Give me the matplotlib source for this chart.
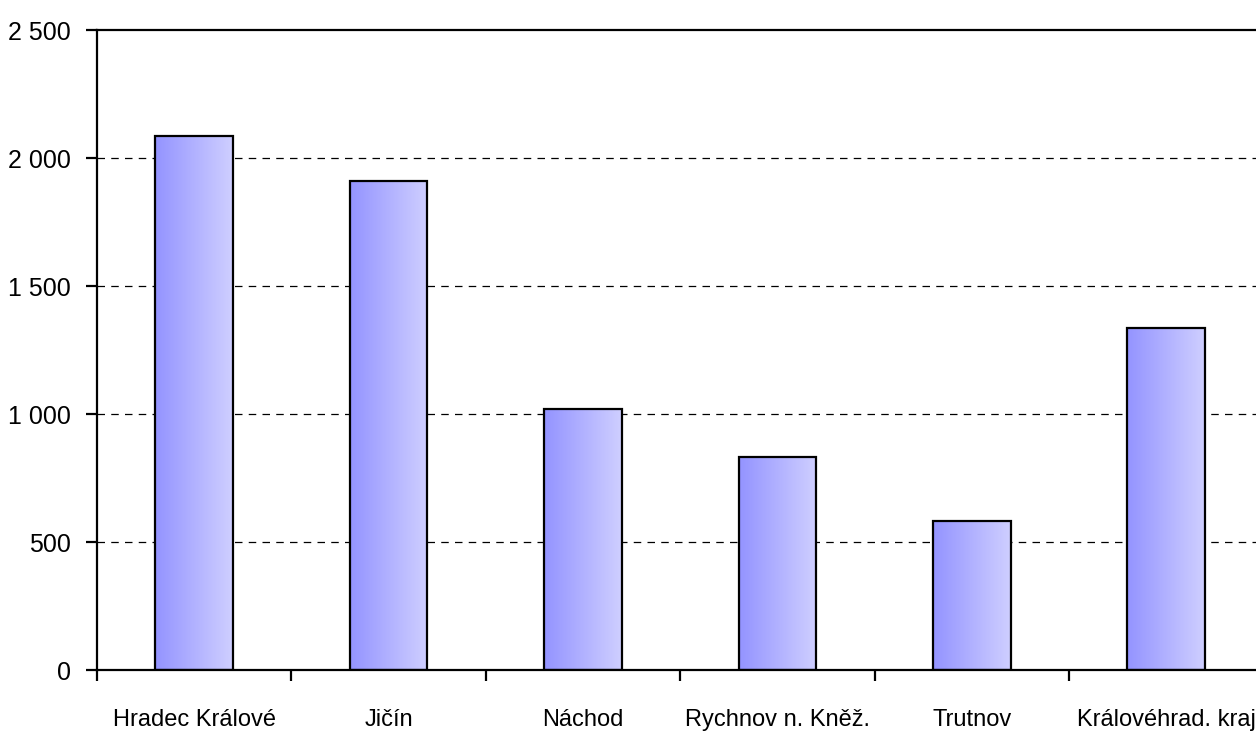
import matplotlib.pyplot as plt
import numpy as np
from matplotlib.ticker import FuncFormatter

### Data
districts = ['Hradec Králové', 'Jičín', 'Náchod', 'Rychnov n. Kněž.', 'Trutnov', 'Královéhrad. kraj']
values = [2084, 1910, 1020, 832, 582, 1335]
y_ticks = [0, 500, 1000, 1500, 2000, 2500]

plt.rcParams['font.family'] = ['Liberation Sans', 'DejaVu Sans']

fig = plt.figure(figsize=(12.56, 7.33), dpi=100)
### Axes runs slightly past the right edge like in the original export
ax = fig.add_axes([97/1256, 63/733, 6*194.4/1256, 640/733])

x = np.arange(len(districts))
width = 0.40
bars = ax.bar(x, values, width=width, facecolor='none', edgecolor='black', linewidth=1.6, zorder=3)

### Horizontal gradient inside each bar
c_left = np.array([0.58, 0.58, 1.0])
c_right = np.array([0.81, 0.81, 1.0])
t = np.linspace(0, 1, 64)
grad = (c_left[None, :] * (1 - t[:, None]) + c_right[None, :] * t[:, None])[None, :, :]
for b in bars:
    x0, w, h = b.get_x(), b.get_width(), b.get_height()
    im = ax.imshow(grad, extent=[x0, x0 + w, 0, h], aspect='auto', zorder=2, interpolation='bilinear')
    im.set_clip_path(b)

ax.set_xlim(-0.5, len(districts) - 0.5)
ax.set_ylim(0, 2500)

### Y axis
ax.set_yticks(y_ticks)
ax.yaxis.set_major_formatter(FuncFormatter(lambda v, p: f'{int(v):,}'.replace(',', ' ')))
ax.tick_params(axis='y', direction='out', length=8, width=1.6, pad=11, labelsize=18)
for v in y_ticks[1:-1]:
    ax.axhline(v, color='black', linewidth=0.9, linestyle=(0, (6, 5)), zorder=1)

### X axis: ticks at category boundaries, labels centered
ax.set_xticks(np.arange(-0.5, len(districts), 1.0))
ax.set_xticklabels([])
ax.set_xticks(x, minor=True)
ax.set_xticklabels(districts, minor=True, fontsize=17)
ax.tick_params(axis='x', which='major', direction='out', length=8, width=1.6)
ax.tick_params(axis='x', which='minor', length=0, pad=28)

for s in ['left', 'bottom', 'top', 'right']:
    ax.spines[s].set_linewidth(1.6)
ax.set_axisbelow(False)

fig.savefig('out.png', dpi=100)
